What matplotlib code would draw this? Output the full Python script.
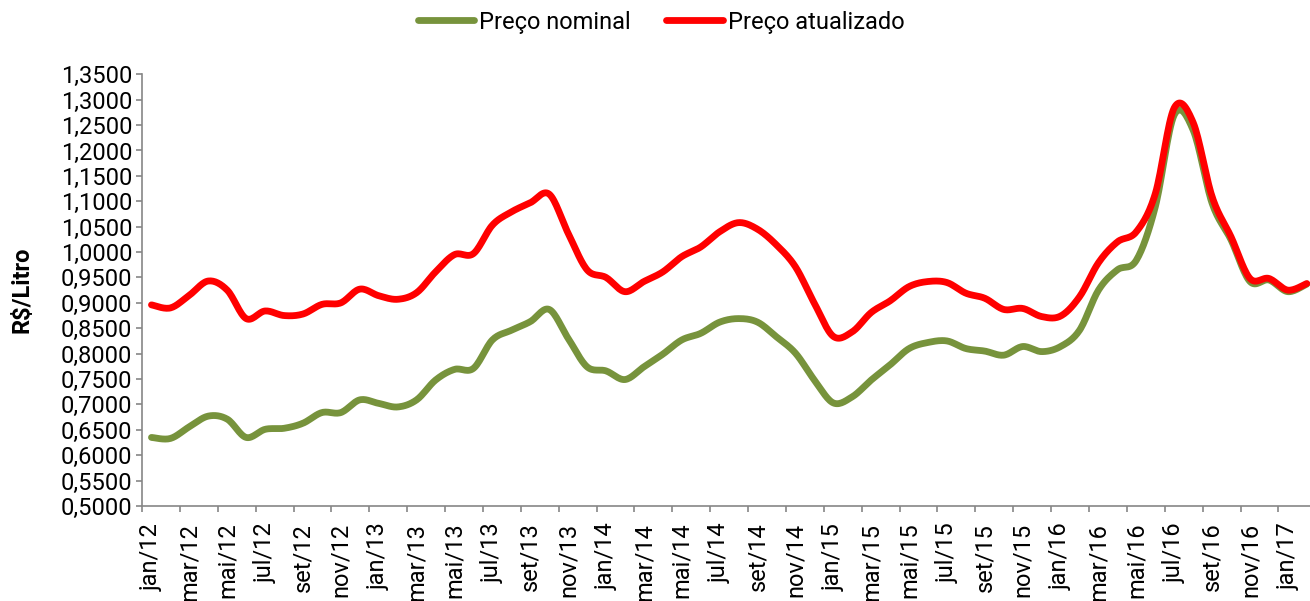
import numpy as np
import matplotlib
matplotlib.use("Agg")
import matplotlib.pyplot as plt
from matplotlib.ticker import FuncFormatter, FixedLocator

plt.rcParams['font.family'] = ['Roboto', 'DejaVu Sans']

# monthly values, jan/12 .. fev/17
preco_nominal = [0.635, 0.633, 0.656, 0.677, 0.671, 0.635, 0.651, 0.653, 0.663, 0.684,
                 0.684, 0.709, 0.702, 0.695, 0.709, 0.748, 0.769, 0.771, 0.827, 0.846,
                 0.863, 0.887, 0.830, 0.774, 0.766, 0.749, 0.774, 0.799, 0.827, 0.840,
                 0.862, 0.869, 0.862, 0.833, 0.801, 0.748, 0.703, 0.715, 0.748, 0.778,
                 0.810, 0.822, 0.825, 0.810, 0.805, 0.797, 0.814, 0.804, 0.814, 0.846,
                 0.925, 0.965, 0.984, 1.089, 1.270, 1.240, 1.096, 1.024, 0.942, 0.945,
                 0.922, 0.937]
preco_atualizado = [0.896, 0.890, 0.915, 0.943, 0.925, 0.869, 0.884, 0.875, 0.878, 0.897,
                    0.900, 0.927, 0.914, 0.907, 0.920, 0.961, 0.995, 0.997, 1.053, 1.079,
                    1.097, 1.114, 1.037, 0.965, 0.950, 0.922, 0.942, 0.961, 0.991, 1.010,
                    1.040, 1.058, 1.045, 1.014, 0.971, 0.899, 0.834, 0.843, 0.881, 0.904,
                    0.932, 0.942, 0.940, 0.919, 0.909, 0.887, 0.889, 0.873, 0.874, 0.912,
                    0.979, 1.020, 1.040, 1.115, 1.284, 1.255, 1.109, 1.030, 0.948, 0.948,
                    0.925, 0.938]
tick_labels = ['jan/12', 'mar/12', 'mai/12', 'jul/12', 'set/12', 'nov/12',
               'jan/13', 'mar/13', 'mai/13', 'jul/13', 'set/13', 'nov/13',
               'jan/14', 'mar/14', 'mai/14', 'jul/14', 'set/14', 'nov/14',
               'jan/15', 'mar/15', 'mai/15', 'jul/15', 'set/15', 'nov/15',
               'jan/16', 'mar/16', 'mai/16', 'jul/16', 'set/16', 'nov/16',
               'jan/17']


def smooth(x, y, n=16):
    # Bezier smoothing through the points, like a spreadsheet "smoothed line"
    x = np.asarray(x, float)
    y = np.asarray(y, float)
    xs, ys = [], []
    t = np.linspace(0, 1, n, endpoint=False)[:, None]
    pts = np.column_stack([x, y])
    for i in range(len(x) - 1):
        p0 = pts[max(i - 1, 0)]
        p1 = pts[i]
        p2 = pts[i + 1]
        p3 = pts[min(i + 2, len(x) - 1)]
        c1 = p1 + (p2 - p0) / 6
        c2 = p2 - (p3 - p1) / 6
        b = ((1 - t) ** 3) * p1 + 3 * ((1 - t) ** 2) * t * c1 + 3 * (1 - t) * t ** 2 * c2 + t ** 3 * p2
        xs.append(b[:, 0])
        ys.append(b[:, 1])
    xs.append([x[-1]])
    ys.append([y[-1]])
    return np.concatenate(xs), np.concatenate(ys)


x = np.arange(len(preco_nominal)) + 0.5

fig = plt.figure(figsize=(13.1, 6.01), dpi=100)
ax = fig.add_axes([142 / 1310, 95 / 601, 62 * 18.94 / 1310, 431.7 / 601])

xn, yn = smooth(x, preco_nominal)
xa, ya = smooth(x, preco_atualizado)
ax.plot(xn, yn, color='#77933C', lw=4.9, solid_capstyle='round', solid_joinstyle='round',
        label='Preço nominal')
ax.plot(xa, ya, color='#FF0000', lw=4.9, solid_capstyle='round', solid_joinstyle='round',
        label='Preço atualizado')

ax.set_xlim(0, len(preco_nominal))
ax.set_ylim(0.5, 1.35)
ax.set_yticks(np.arange(0.5, 1.3501, 0.05))
ax.yaxis.set_major_formatter(FuncFormatter(lambda v, p: f'{v:.4f}'.replace('.', ',')))

ax.xaxis.set_major_locator(FixedLocator(np.arange(0, len(preco_nominal) + 1, 2)))
ax.xaxis.set_major_formatter(FuncFormatter(lambda v, p: ''))
ax.xaxis.set_minor_locator(FixedLocator(x[::2]))
ax.set_xticklabels(tick_labels, minor=True, rotation=90)

for s in ['top', 'right']:
    ax.spines[s].set_visible(False)
for s in ['left', 'bottom']:
    ax.spines[s].set_color('#868686')
    ax.spines[s].set_linewidth(1.2)

ax.tick_params(axis='y', which='major', direction='out', length=4, width=1.2,
               color='#868686', labelsize=17, pad=3)
ax.tick_params(axis='x', which='major', direction='out', length=4, width=1.2,
               color='#868686')
ax.tick_params(axis='x', which='minor', length=0, labelsize=17, pad=12)

ax.set_ylabel(r'R\$/Litro', fontsize=17, fontweight='bold', labelpad=6)
ax.yaxis.set_label_coords(-0.092, 0.5)

fig.legend(loc='center', bbox_to_anchor=(661 / 1310, 1 - 22 / 601), ncol=2,
           frameon=False, fontsize=17, handlelength=2.4, handletextpad=0.2,
           columnspacing=1.5)

fig.savefig('out.png', dpi=100)
